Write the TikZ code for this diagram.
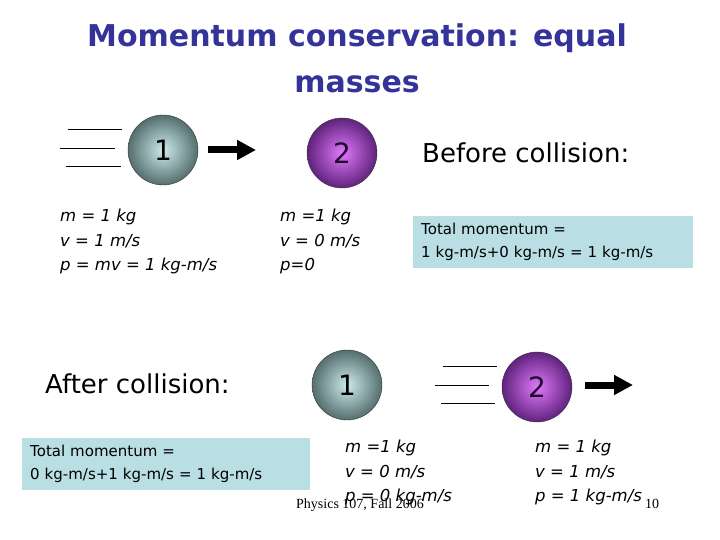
\documentclass[tikz,border=0pt]{standalone}
\usepackage{fontspec}
\setmainfont{DejaVu Sans}
\newfontfamily\footfont{Liberation Serif}
\usetikzlibrary{arrows.meta}

\definecolor{titleblue}{RGB}{51,51,153}
\definecolor{boxblue}{RGB}{185,222,228}
\definecolor{greyin}{RGB}{205,235,235}
\definecolor{greyout}{RGB}{85,110,110}
\definecolor{purplein}{RGB}{225,120,250}
\definecolor{purpleout}{RGB}{95,35,125}
\definecolor{purpletext}{RGB}{30,10,50}

\tikzset{
  ballgrey/.style={circle, draw=black!80, thin, minimum size=70pt, inner sep=0pt,
    shading=radial, inner color=greyin, outer color=greyout,
    font=\fontsize{28}{30}\selectfont},
  ballpurple/.style={circle, draw=black!80, thin, minimum size=70pt, inner sep=0pt,
    shading=radial, inner color=purplein, outer color=purpleout,
    text=purpletext, font=\fontsize{28}{30}\selectfont},
  motion/.style={line width=7pt, -{Triangle[length=19pt,width=19pt]}},
  speed/.style={line width=0.8pt},
  values/.style={anchor=north west, inner sep=0pt, align=left,
    font=\fontsize{16.5}{24.5}\selectfont\itshape},
  totalbox/.style={anchor=north west, fill=boxblue, align=left, inner xsep=8pt,
    inner ysep=7pt, font=\fontsize{15}{23}\selectfont},
  heading/.style={anchor=west, inner sep=0pt, font=\fontsize{26}{30}\selectfont},
}

\begin{document}
\begin{tikzpicture}[x=1pt, y=-1pt]

%%%%%%%%%%%%%%%%%%%%%%
%%%   Dimensions   %%%
%%%%%%%%%%%%%%%%%%%%%%

\def \gap{10}
\def \longarrow{48}

\useasboundingbox (0,0) rectangle (720,540);

%%%%%%%%%%%%%%%%%%%%%%
%%%     Titre      %%%
%%%%%%%%%%%%%%%%%%%%%%

\node[anchor=north, inner sep=0pt, align=center, text=titleblue,
  font=\fontsize{30}{46}\selectfont\bfseries] (title) at (357,24)
  {Momentum conservation: equal\\masses};

%%%%%%%%%%%%%%%%%%%%%%
%%%  Avant choc    %%%
%%%%%%%%%%%%%%%%%%%%%%

\node[ballgrey] (b1) at (163,150) {1};
\node[ballpurple] (b2) at (342,153) {2};

% traits de vitesse de la boule 1
\draw[speed] (68,129) -- (122,129);
\draw[speed] (60,148) -- (115,148);
\draw[speed] (66,166) -- (121,166);

\coordinate (v1) at (256,150);
\draw[motion] ([xshift=\gap]b1.east |- v1) -- (v1);

\node[heading] (before) at (422,153) {Before collision:};

\node[values] (data1) at (60,209) {m = 1 kg\\v = 1 m/s\\p = mv = 1 kg-m/s};
\node[values] (data2) at (280,209) {m =1 kg\\v = 0 m/s\\p=0};

\node[totalbox, text width=264pt, minimum height=51pt] (total1) at (413,216)
  {Total momentum =\\1 kg-m/s+0 kg-m/s = 1 kg-m/s};

%%%%%%%%%%%%%%%%%%%%%%
%%%  Apres choc    %%%
%%%%%%%%%%%%%%%%%%%%%%

\node[heading] (after) at (45,384) {After collision:};

\node[ballgrey] (a1) at (347,385) {1};
\node[ballpurple] (a2) at (537,387) {2};

% traits de vitesse de la boule 2
\draw[speed] (443,366) -- (497,366);
\draw[speed] (435,385) -- (489,385);
\draw[speed] (441,403) -- (495,403);

\coordinate (v2) at (633,385);
\draw[motion] ([xshift=13]a2.east |- v2) -- (v2);

\node[totalbox, text width=272pt, minimum height=50pt] (total2) at (22,438)
  {Total momentum =\\0 kg-m/s+1 kg-m/s = 1 kg-m/s};

\node[values] (data3) at (345,440) {m =1 kg\\v = 0 m/s\\p = 0 kg-m/s};
\node[values] (data4) at (535,440) {m = 1 kg\\v = 1 m/s\\p = 1 kg-m/s};

%%%%%%%%%%%%%%%%%%%%%%
%%%  Pied de page  %%%
%%%%%%%%%%%%%%%%%%%%%%

\node[anchor=base west, inner sep=0pt, font=\footfont\fontsize{14}{16}\selectfont] (foot) at (296,508) {Physics 107, Fall 2006};
\node[anchor=base west, inner sep=0pt, font=\footfont\fontsize{14}{16}\selectfont] (page) at (645,508) {10};

\end{tikzpicture}
\end{document}
